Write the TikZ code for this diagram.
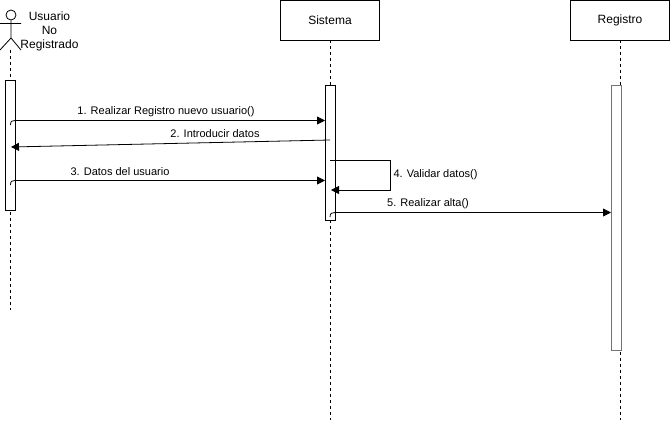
\documentclass[tikz,border=0pt]{standalone}
\usepackage{fontspec}
\setmainfont{Liberation Sans}
\usetikzlibrary{arrows.meta}
\begin{document}
\begin{tikzpicture}[x=1pt,y=-1pt,draw=black!100,line width=0.8pt]
	\def \rowhead{20}
	\def \rowmsgone{120.5}
	\def \rowmsgthree{180.5}
	\def \rowbottom{420}
	\tikzstyle{obj-node}=[rectangle,draw,minimum width=99pt,minimum height=40pt,inner sep=0pt,font=\fontsize{12}{14}\selectfont]
	\tikzstyle{bar-node}=[rectangle,draw,fill=white,minimum width=10pt,inner sep=0pt]
	\tikzstyle{msg-lbl}=[inner sep=0pt,font=\fontsize{11}{13}\selectfont]
	\tikzstyle{life-line}=[dashed,dash pattern=on 3pt off 3pt]
	\tikzstyle{msg-line}=[-{Triangle[length=8pt,width=8pt]}]
	\useasboundingbox (0,0) rectangle (671,431);

	% objects
	\node[obj-node] (sis) at (330,\rowhead) {Sistema};
	\node[obj-node] (reg) at (620,\rowhead) {Registro};

	% actor
	\node[circle,draw,inner sep=0pt,minimum size=10pt] (head) at (11,15) {};
	\coordinate (neck) at (11,38);
	\coordinate (armL) at (0,23.5);
	\coordinate (armR) at (21,23.5);
	\coordinate (legL) at (0,50);
	\coordinate (legR) at (21,50);
	\node[msg-lbl,align=center,font=\fontsize{12}{14}\selectfont] (actor) at (49.5,31) {Usuario\\No\\Registrado};
	\draw (head) -- (neck) (armL) -- (armR) (legL) -- (neck) -- (legR);

	% lifelines
	\coordinate (actTop) at (10.5,50);
	\coordinate (actEnd) at (10.5,310);
	\coordinate (sisEnd) at (330,\rowbottom);
	\coordinate (regEnd) at (620,\rowbottom);
	\draw[life-line] (actTop) -- (actEnd);
	\draw[life-line] (sis) -- (sisEnd);
	\draw[life-line] (reg) -- (regEnd);

	% activations
	\node[bar-node,minimum height=130pt] (barA) at (10.5,145) {};
	\node[bar-node,minimum height=135pt] (barS) at (330,152.5) {};
	\node[bar-node,minimum height=265pt,draw=black!55] (barR) at (616,217.5) {};

	% message ends
	\coordinate (m1a) at (10.5,125);
	\coordinate (m1b) at (325,\rowmsgone);
	\coordinate (m2a) at (330,140);
	\coordinate (m2b) at (11,147);
	\coordinate (m3a) at (10.5,185);
	\coordinate (m3b) at (325,\rowmsgthree);
	\coordinate (m4a) at (330,160);
	\coordinate (m4c) at (390,160);
	\coordinate (m4d) at (390,190);
	\coordinate (m4b) at (331,190);
	\coordinate (m5a) at (330,217);
	\coordinate (m5b) at (611,212.5);

	\draw[msg-line] (m1a) .. controls (10.5,121) and (12,\rowmsgone) .. (15,\rowmsgone) -- (m1b);
	\draw[msg-line] (m2a) -- (m2b);
	\draw[msg-line] (m3a) .. controls (10.5,181) and (12,\rowmsgthree) .. (15,\rowmsgthree) -- (m3b);
	\draw[msg-line] (m4a) -- (m4c) -- (m4d) -- (m4b);
	\draw[msg-line] (m5a) .. controls (330,213) and (332,212.5) .. (335,212.5) -- (m5b);

	% labels
	\node[msg-lbl] (l1) at (166,111.5) {1. Realizar Registro nuevo usuario()};
	\node[msg-lbl] (l2) at (215,134) {2. Introducir datos};
	\node[msg-lbl] (l3) at (120,171.5) {3. Datos del usuario};
	\node[msg-lbl] (l4) at (435.5,175) {4. Validar datos()};
	\node[msg-lbl] (l5) at (428,203.5) {5. Realizar alta()};
\end{tikzpicture}
\end{document}
